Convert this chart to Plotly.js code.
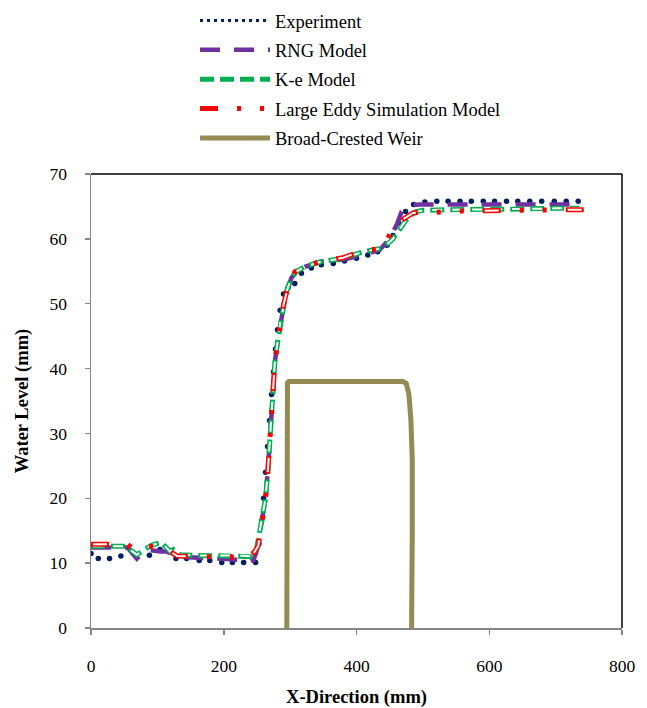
<!DOCTYPE html>
<html>
<head>
<meta charset="utf-8">
<script src="https://cdn.plot.ly/plotly-3.0.1.min.js"></script>
<style>
html,body{margin:0;padding:0;background:#fff;}
#chart{width:647px;height:708px;}
</style>
</head>
<body>
<div id="chart"></div>
<script>
// Experiment (dots)
var expX = [0, 11, 28, 45, 88, 104, 128, 144, 163, 179, 197, 213, 230, 248, 253, 257, 260, 263, 266, 269, 272, 275, 278, 281, 285, 290, 297, 307, 317, 332, 347, 365, 382, 400, 417, 432, 446, 455, 463, 474, 486, 503, 521, 538, 556, 573, 591, 608, 626, 643, 661, 679, 698, 716, 734];
var expY = [11.5, 10.7, 10.7, 11.1, 11.2, 12.1, 10.7, 10.7, 10.4, 10.4, 10.1, 10.1, 10.1, 10.1, 13, 16.5, 20, 24, 28, 32, 36, 39.5, 43, 46, 49, 51.5, 52.5, 53.1, 54.7, 55.5, 56, 56.2, 56.6, 57, 57.5, 58, 59, 60.5, 62.5, 64.2, 65.3, 65.7, 65.8, 65.8, 65.8, 65.8, 65.8, 65.8, 65.8, 65.8, 65.8, 65.8, 65.8, 65.8, 65.8];

// RNG Model
var rngX = [0, 55, 60, 69, 79, 90, 105, 114, 129, 160, 197, 212, 239, 245, 250, 256, 263, 267, 270, 273, 277, 281, 285, 290, 295, 302, 310, 322, 347, 380, 410, 435, 450, 462, 468, 477, 485, 495, 520, 560, 600, 640, 680, 733];
var rngY = [12.4, 12.4, 11.8, 10.7, 11.8, 12, 11.8, 11.8, 11, 10.8, 10.6, 10.6, 10.2, 10.5, 12, 16, 20, 25, 30, 35, 41, 44, 47, 49.5, 52, 54, 55, 55.7, 56.5, 56.8, 57.5, 58.3, 60, 62.5, 64.2, 65, 65.2, 65.3, 65.3, 65.3, 65.3, 65.3, 65.3, 65.3];

// K-e Model
var keX = [0, 55, 60, 69, 79, 92, 106, 119, 124, 134, 160, 197, 212, 232, 245, 250, 256, 263, 267, 270, 273, 277, 281, 285, 290, 295, 302, 310, 322, 347, 380, 410, 440, 455, 465, 478, 490, 500, 540, 600, 650, 700, 735];
var keY = [12.6, 12.6, 12.0, 11.3, 12.0, 12.8, 13.2, 11.8, 12.1, 11.3, 11.2, 11.15, 11.15, 11.15, 11.0, 12.5, 16, 20, 25, 30, 35, 41, 44, 47, 49.5, 52, 54, 55, 55.7, 56.5, 57, 58, 58.6, 60, 61.5, 63.4, 64.2, 64.4, 64.5, 64.5, 64.6, 64.7, 64.7];

// Large Eddy Simulation Model
var lesX = [0, 55, 62, 72, 82, 96, 110, 130, 160, 200, 231, 240, 247, 252, 257, 263, 267, 270, 273, 277, 281, 285, 290, 294, 300, 308, 320, 345, 380, 410, 440, 453, 460, 470, 485, 500, 520, 560, 620, 680, 744];
var lesY = [12.9, 12.9, 12.3, 12.3, 12.7, 12.5, 12.3, 11.1, 11.0, 10.9, 10.9, 11.2, 11.8, 12.7, 16, 20, 25, 30, 35, 41, 44, 47, 49.8, 51.5, 53.9, 55, 55.6, 56.5, 57.1, 58.2, 58.5, 61.3, 61.8, 63, 64, 64.1, 64.1, 64.3, 64.4, 64.4, 64.5];

// Broad-Crested Weir
var weirX = [295, 295, 296, 298, 470, 475, 479, 482, 484, 484, 483];
var weirY = [0, 37, 37.8, 38, 38, 37.7, 36, 32, 26, 15, 0];

var names = ['Experiment', 'RNG Model', 'K-e Model', 'Large Eddy Simulation Model', 'Broad-Crested Weir'];
var xTicks = [0, 200, 400, 600, 800];
var yTicks = [0, 10, 20, 30, 40, 50, 60, 70];

var NAVY = '#002060', PURPLE = '#7030A0', GREEN = '#00B050', RED = '#FF0000', OLIVE = '#948A54';

var traces = [
  {x: [null], y: [null], mode: 'lines', name: names[0], legendgroup: 'g1',
   line: {color: NAVY, width: 3, dash: '3px,4px'}, hoverinfo: 'skip'},
  {x: expX, y: expY, mode: 'markers', name: names[0], legendgroup: 'g1', showlegend: false,
   marker: {color: NAVY, size: 5.5}},
  {x: rngX, y: rngY, mode: 'lines', name: names[1], legendgroup: 'g2',
   line: {color: PURPLE, width: 4.5, dash: '20px,14px'}},
  {x: keX, y: keY, mode: 'lines', name: names[2], legendgroup: 'g3',
   line: {color: GREEN, width: 5, dash: '14px,6px'}},
  {x: keX, y: keY, mode: 'lines', name: names[2], legendgroup: 'g3', showlegend: false,
   line: {color: '#ffffff', width: 2, dash: '0px,2px,10px,8px'}, hoverinfo: 'skip'},
  {x: lesX, y: lesY, mode: 'lines', name: names[3], legendgroup: 'g4',
   line: {color: RED, width: 5, dash: '18px,19px,4px,19px,4px,19px'}},
  {x: lesX, y: lesY, mode: 'lines', name: names[3], legendgroup: 'g4', showlegend: false,
   line: {color: '#ffffff', width: 2, dash: '0px,2px,14px,67px'}, hoverinfo: 'skip'},
  {x: weirX, y: weirY, mode: 'lines', name: names[4], legendgroup: 'g5',
   line: {color: OLIVE, width: 5}}
];

var FONT = "'Liberation Serif', 'Times New Roman', serif";

var layout = {
  width: 647, height: 708,
  margin: {l: 91, r: 25, t: 174, b: 80, autoexpand: false},
  paper_bgcolor: '#ffffff', plot_bgcolor: '#ffffff',
  font: {family: FONT, color: '#000000', size: 17.5},
  showlegend: true,
  legend: {
    x: 0.1959, y: 1.3789, xanchor: 'left', yanchor: 'top',
    orientation: 'v', traceorder: 'grouped', tracegroupgap: 2.3,
    itemwidth: 70, bgcolor: 'rgba(0,0,0,0)', borderwidth: 0,
    font: {family: FONT, size: 18.5, color: '#000000'}
  },
  xaxis: {
    range: [0, 800], tickvals: xTicks, ticktext: xTicks.map(String),
    showgrid: false, zeroline: false,
    showline: true, linecolor: '#868686', linewidth: 1.5,
    ticks: 'outside', ticklen: 5, tickcolor: '#868686', tickwidth: 1.5,
    ticklabelstandoff: 16,
    tickfont: {family: FONT, size: 17.5, color: '#000000'},
    title: {text: '<b>X-Direction (mm)</b>', font: {family: FONT, size: 18.5, color: '#000000'}, standoff: 18}
  },
  yaxis: {
    range: [0, 70], tickvals: yTicks, ticktext: yTicks.map(String),
    showgrid: false, zeroline: false,
    showline: true, linecolor: '#868686', linewidth: 1.5,
    ticks: 'outside', ticklen: 5, tickcolor: '#868686', tickwidth: 1.5,
    ticklabelstandoff: 14,
    tickfont: {family: FONT, size: 17.5, color: '#000000'},
    title: {text: '<b>Water Level (mm)</b>', font: {family: FONT, size: 18.5, color: '#000000'}, standoff: 16}
  },
  shapes: [
    {type: 'line', xref: 'paper', yref: 'paper', x0: 0, x1: 1, y0: 1, y1: 1, line: {color: '#000000', width: 1.5}},
    {type: 'line', xref: 'paper', yref: 'paper', x0: 1, x1: 1, y0: 0, y1: 1, line: {color: '#000000', width: 1.5}}
  ]
};

Plotly.newPlot('chart', traces, layout, {displayModeBar: false, staticPlot: true});
</script>
</body>
</html>
